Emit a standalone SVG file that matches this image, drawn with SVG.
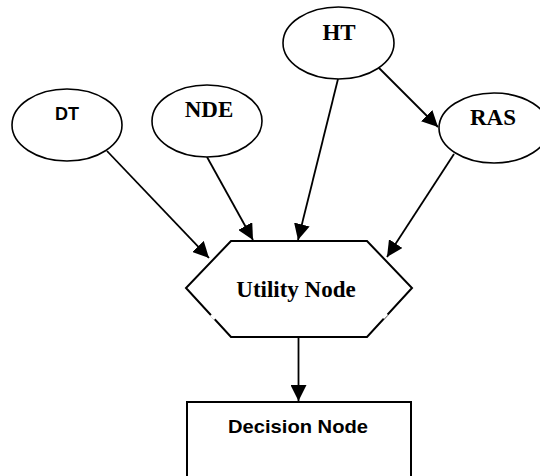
<svg xmlns="http://www.w3.org/2000/svg" width="540" height="476" viewBox="0 0 540 476">
<defs>
<style>
.shape{fill:#fff;stroke:#000;stroke-width:2}
.edge{stroke:#000;stroke-width:1.8;fill:none;marker-end:url(#arr)}
.tn{font-family:"Liberation Serif","Times New Roman",serif;font-weight:bold;font-size:23px;text-anchor:middle;fill:#000}
.ts{font-family:"Liberation Sans",Arial,sans-serif;font-weight:bold;text-anchor:middle;fill:#000}
</style>
<marker id="arr" viewBox="0 0 10 10" refX="10" refY="5" markerWidth="8" markerHeight="8" markerUnits="userSpaceOnUse" orient="auto">
<path d="M0,0 L10,5 L0,10 z" fill="#000"/>
</marker>
<marker id="arr2" viewBox="0 0 10 10" refX="10" refY="5" markerWidth="16" markerHeight="16" markerUnits="userSpaceOnUse" orient="auto">
<path d="M0,0 L10,5 L0,10 z" fill="#000"/>
</marker>
</defs>
<rect width="540" height="476" fill="#fff"/>
<g id="connectors">
<line x1="107" y1="151" x2="209" y2="258" class="edge" style="marker-end:url(#arr2)"/>
<line x1="207" y1="157" x2="253" y2="240" class="edge" style="marker-end:url(#arr2)"/>
<line x1="338" y1="79" x2="298" y2="240" class="edge" style="marker-end:url(#arr2)"/>
<line x1="378" y1="67" x2="438" y2="127" class="edge" style="marker-end:url(#arr2)"/>
<line x1="454" y1="154" x2="387" y2="257" class="edge" style="marker-end:url(#arr2)"/>
<line x1="298.5" y1="337" x2="298.5" y2="401" class="edge" style="marker-end:url(#arr2)"/>
</g>
<g id="DT">
<ellipse cx="67" cy="125" rx="55" ry="36" class="shape" style="stroke-width:1.6"/>
<text x="67" y="120" class="ts" font-size="18">DT</text>
</g>
<g id="NDE">
<ellipse cx="207" cy="121" rx="55" ry="36" class="shape" style="stroke-width:1.6"/>
<text x="209" y="117" class="tn">NDE</text>
</g>
<g id="HT">
<ellipse cx="338.5" cy="43" rx="55.5" ry="36" class="shape" style="stroke-width:1.6"/>
<text x="339" y="40" class="tn">HT</text>
</g>
<g id="RAS">
<ellipse cx="494" cy="128" rx="55" ry="35" class="shape" style="stroke-width:1.6"/>
<text x="493" y="125" class="tn">RAS</text>
</g>
<g id="UtilityNode">
<polygon points="231,241 367,241 412,288 367,337 231,337 186,288" class="shape"/>
<line x1="211" y1="315" x2="215" y2="319" stroke="#fff" stroke-width="3"/>
<line x1="387" y1="314" x2="383" y2="318" stroke="#fff" stroke-width="3"/>
<text x="296" y="297" class="tn">Utility Node</text>
</g>
<g id="DecisionNode">
<path d="M187,480 V402 H411 V480" class="shape"/>
<text x="298" y="433" class="ts" font-size="19" textLength="140" lengthAdjust="spacingAndGlyphs">Decision Node</text>
</g>
</svg>
